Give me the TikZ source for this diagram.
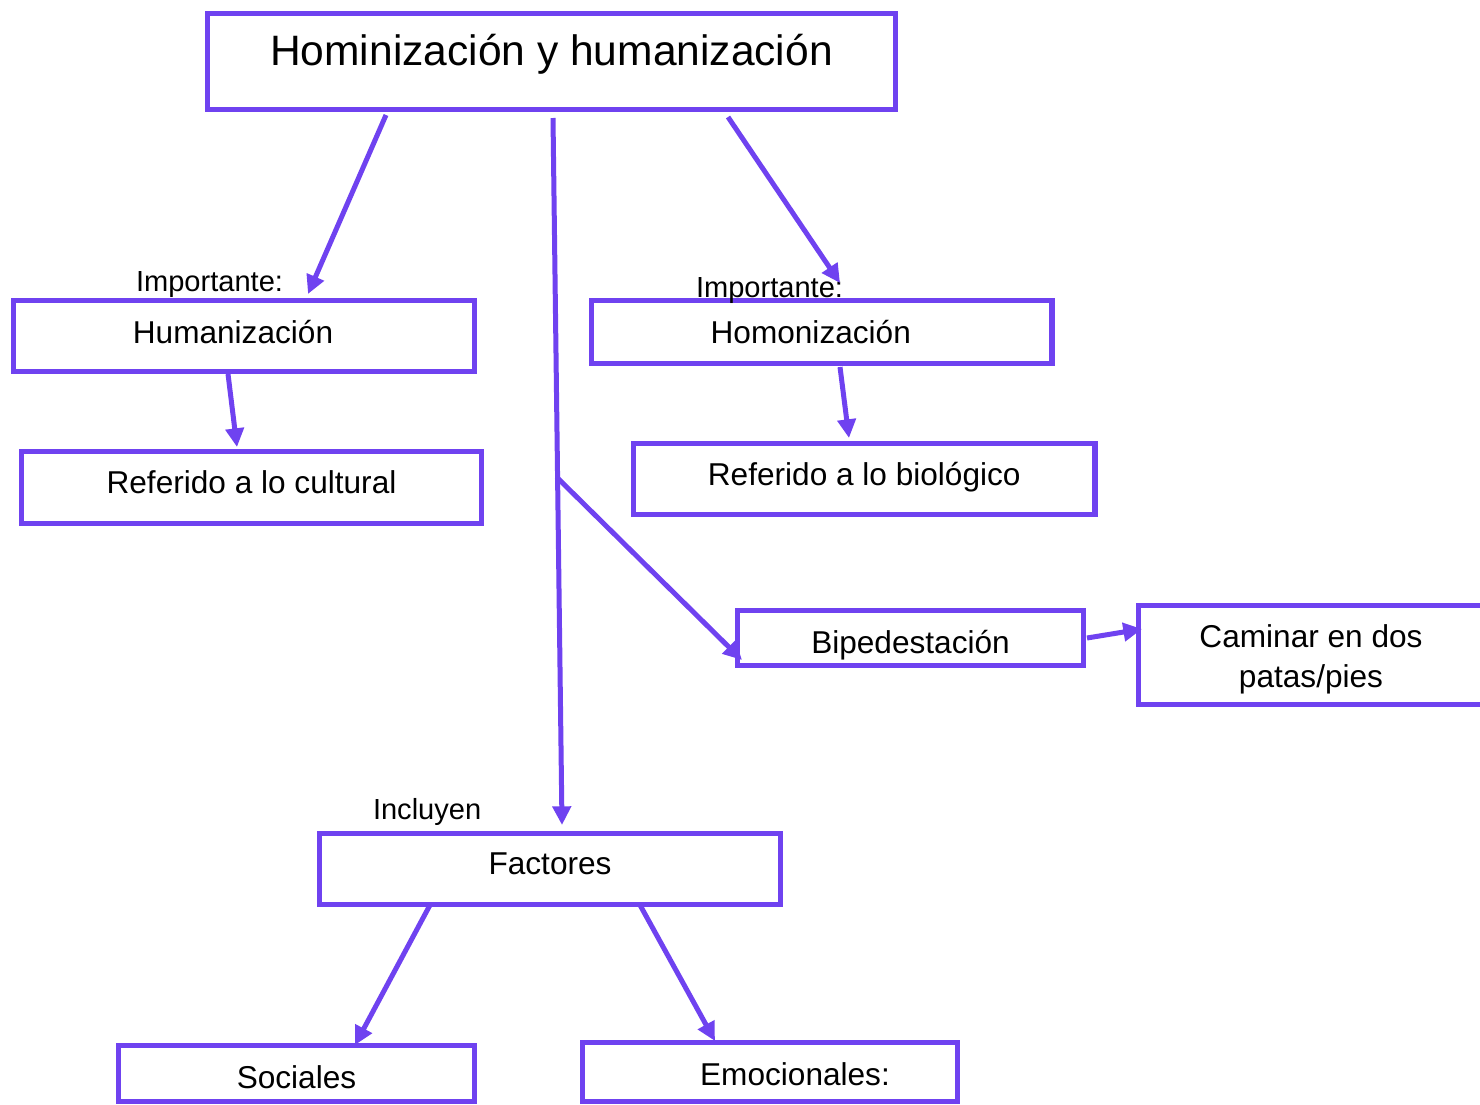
\documentclass[tikz,border=0pt]{standalone}
\usepackage{fontspec}
\setmainfont{Liberation Sans}
\usetikzlibrary{arrows.meta}
\definecolor{vio}{HTML}{6F42F0}
\begin{document}
\begin{tikzpicture}[x=0.75pt,y=-0.75pt,
  box/.style={draw=vio, line width=4pt, rectangle, inner sep=0pt, outer sep=0pt,
    font=\fontsize{23.7}{30}\selectfont},
  bl/.style={text height=#1, text depth=0pt},
  lbl/.style={inner sep=0pt, outer sep=0pt, font=\fontsize{21.8}{26}\selectfont, anchor=base west},
  arr/.style={draw=vio, line width=3.75pt, -{Triangle[length=14pt,width=13.5pt]}}]
\useasboundingbox (0,0) rectangle (1480,1104);

% boxes
\node[box, bl=5.25pt, minimum width=516pt, minimum height=72pt, font=\fontsize{31.9}{38}\selectfont]
  (title) at (551.5,61.5) {Hominización y humanización};
\node[box, bl=10.5pt, minimum width=345.75pt, minimum height=53.25pt]
  (hum) at (244,336) {\hspace*{-16.5pt}Humanización};
\node[box, bl=8.25pt, minimum width=345pt, minimum height=54pt]
  (refc) at (251.5,487.5) {Referido a lo cultural};
\node[box, bl=16.5pt, minimum width=345.4pt, minimum height=47.25pt]
  (homo) at (821.75,332) {\hspace*{-16.5pt}Homonización};
\node[box, bl=9pt, minimum width=346.1pt, minimum height=53.25pt]
  (refb) at (864.25,479) {Referido a lo biológico};
\node[box, bl=22.5pt, minimum width=259.5pt, minimum height=41.25pt]
  (bip) at (910.5,638) {Bipedestación};
\node[box, align=center, minimum width=258.75pt, minimum height=74.25pt]
  (cam) at (1311,655) {\rule{0pt}{23.3pt}Caminar en dos\\patas/pies};
\node[box, bl=7.5pt, minimum width=345.75pt, minimum height=53.25pt]
  (fac) at (550,869) {Factores};
\node[box, bl=21.75pt, minimum width=267pt, minimum height=42pt]
  (soc) at (296.5,1073.5) {Sociales};
\node[box, bl=19.5pt, minimum width=281.25pt, minimum height=44.25pt]
  (emo) at (770,1072) {\hspace*{37.5pt}Emocionales:};

% labels
\node[lbl] (imp1) at (136,291) {Importante:};
\node[lbl] (imp2) at (696,297) {Importante:};
\node[lbl] (incl) at (373,819) {Incluyen};

% connectors
\draw[arr] ([shift={(-165.5,5.5)}]title.south) -- ([shift={(64,-6.5)}]hum.north);
\draw[arr] ([shift={(1.5,8.5)}]title.south) -- ([shift={(12,-8.5)}]fac.north);
\draw[arr] ([shift={(176.5,7.5)}]title.south) -- ([shift={(18.25,-17.5)}]homo.north);
\draw[arr] ([shift={(-16,2.5)}]hum.south) -- ([shift={(-14.5,-4.5)}]refc.north);
\draw[arr] ([shift={(18.25,3.5)}]homo.south) -- ([shift={(-15.25,-5.5)}]refb.north);
\coordinate (split) at (556.5,477);
\draw[arr] (split) -- ([shift={(4.5,-5.5)}]bip.south west);
\draw[arr] ([shift={(3.5,0)}]bip.east) -- ([shift={(3.5,-26)}]cam.west);
\draw[arr] ([shift={(-120,0.5)}]fac.south) -- ([shift={(58.5,-0.5)}]soc.north);
\draw[arr] ([shift={(90,0.5)}]fac.south) -- ([shift={(-55,-1.5)}]emo.north);
\end{tikzpicture}
\end{document}
